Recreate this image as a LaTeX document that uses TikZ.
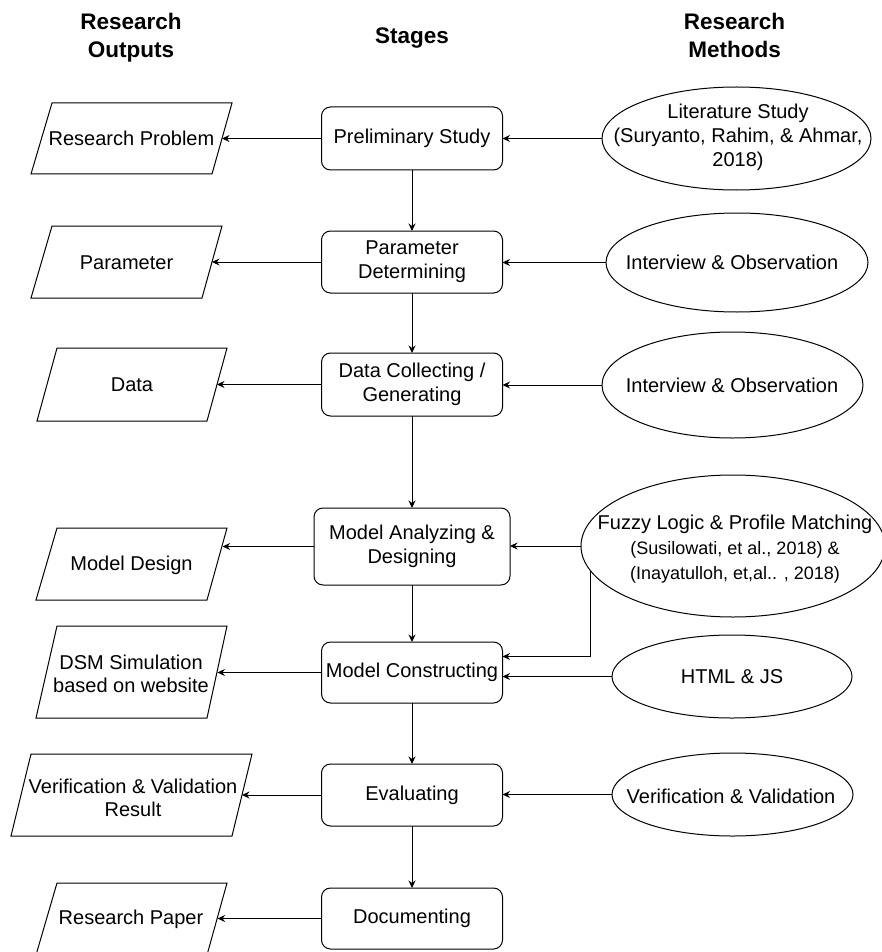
\documentclass[tikz,border=0pt]{standalone}
\usepackage{fontspec}
\setmainfont{Liberation Sans}
\usetikzlibrary{arrows.meta,calc,shapes.geometric}
\begin{document}
\begin{tikzpicture}[x=1pt,y=-1pt,
  stagebox/.style={draw, rounded corners=9pt, line width=1pt, minimum width=181pt, minimum height=62pt, inner sep=0pt, outer sep=0pt, align=center, font=\fontsize{20}{24}\selectfont},
  meth/.style={draw, ellipse, line width=1pt, inner sep=0pt, outer sep=0pt},
  txt/.style={align=center, inner sep=0pt, font=\fontsize{20}{24}\selectfont},
  hdr/.style={align=center, inner sep=0pt, font=\fontsize{22.5}{28}\selectfont\bfseries},
  outl/.style={draw, line width=1pt, line join=miter},
  arr/.style={line width=1pt, -{Stealth[length=7.5pt,width=7pt,inset=2.5pt]}}
]
\useasboundingbox (0,0) rectangle (882,952);

% headers
\node[hdr, anchor=north] (hout) at (131,13) {Research\\Outputs};
\node[hdr, anchor=north] (hst) at (412,28) {Stages};
\node[hdr, anchor=north] (hmet) at (734.5,13) {Research\\Methods};

% stages
\node[stagebox, minimum height=63pt] (ps) at (412,138.5) {Preliminary Study};
\node[stagebox] (pd) at (412,262) {Parameter\\Determining};
\node[stagebox, minimum height=63pt] (dc) at (412,384.5) {Data Collecting /\\Generating};
\node[stagebox, minimum width=196pt, minimum height=77pt] (ma) at (412,546.5) {Model Analyzing \&\\Designing};
\node[stagebox, minimum height=61pt] (mc) at (412,672.5) {Model Constructing};
\node[stagebox] (ev) at (412,795) {Evaluating};
\node[stagebox, minimum height=61pt] (doc) at (412,918.5) {Documenting};

\draw[arr] (ps) -- (pd);
\draw[arr] (pd) -- (dc);
\draw[arr] (dc) -- (ma);
\draw[arr] (ma) -- (mc);
\draw[arr] (mc) -- (ev);
\draw[arr] (ev) -- (doc);

% methods
\node[meth, minimum width=269pt, minimum height=103pt] (lit) at (736.5,138.5) {};
\node[meth, minimum width=262pt, minimum height=99pt] (int1) at (737,262.5) {};
\node[meth, minimum width=261pt, minimum height=106pt] (int2) at (732.5,385) {};
\node[meth, minimum width=304pt, minimum height=142pt] (fz) at (733,546) {};
\node[meth, minimum width=240pt, minimum height=83pt] (html) at (732,676.5) {};
\node[meth, minimum width=241pt, minimum height=83pt] (vv) at (732.5,794.5) {};

\node[txt] (litT) at (738,137) {Literature Study\\(Suryanto, Rahim, \& Ahmar,\hspace*{22pt}\\2018)};
\node[txt] (int1T) at (732,262) {Interview \& Observation};
\node[txt] (int2T) at (732,385) {Interview \& Observation};
\node[txt, font=\fontsize{18}{25}\selectfont] (fzT) at (735,549) {{\fontsize{20}{25}\selectfont Fuzzy Logic \& Profile Matching}\\(Susilowati, et al., 2018) \&\\(Inayatulloh, et,al.. , 2018)};
\node[txt] (htmlT) at (732,677) {HTML \& JS};
\node[txt] (vvT) at (731,796) {Verification \& Validation};

\draw[arr] (lit.west) -- (lit.west -| ps.east);
\draw[arr] (int1.west) -- (int1.west -| pd.east);
\draw[arr] (int2.west) -- (int2.west -| dc.east);
\draw[arr] (fz.west) -- (fz.west -| ma.east);
\coordinate (fzk) at (592,656.5);
\draw[arr] (fz.190.6) |- (fzk -| mc.east);
\draw[arr] (html.west) -- (html.west -| mc.east);
\draw[arr] (vv.west) -- (vv.west -| ev.east);

% outputs (parallelograms)
\draw[outl] (31,174) -- (52,103) -- (232,103) -- (212,174) -- cycle;
\draw[outl] (31,298) -- (52,226) -- (222,226) -- (202,298) -- cycle;
\draw[outl] (37,421) -- (57,348) -- (227,348) -- (207,421) -- cycle;
\draw[outl] (36,600) -- (57,528) -- (227,528) -- (207,600) -- cycle;
\draw[outl] (36,718) -- (57,626) -- (227,626) -- (207,718) -- cycle;
\draw[outl] (11,836) -- (31,754) -- (252,754) -- (232,836) -- cycle;
\draw[outl] (36,955) -- (57,883) -- (227,883) -- (207,955) -- cycle;

\node[txt] (rpT) at (131.5,138.5) {Research Problem};
\node[txt] (paT) at (126.5,263) {Parameter};
\node[txt] (dT) at (132,385) {Data};
\node[txt] (mdT) at (131.5,565) {Model Design};
\node[txt, font=\fontsize{20}{23.5}\selectfont] (dsmT) at (131,674) {DSM Simulation\\based on website};
\node[txt, font=\fontsize{20}{23.5}\selectfont] (vvrT) at (133,798) {Verification \& Validation\\Result};
\node[txt] (rpapT) at (131,919.5) {Research Paper};

\coordinate (rpE) at (222,138.5);
\coordinate (paE) at (212,262);
\coordinate (dE) at (217,384.5);
\coordinate (mdE) at (222.6,546.5);
\coordinate (dsmE) at (217.4,672.5);
\coordinate (vvrE) at (242,795);
\coordinate (rpapE) at (217.6,918.5);

\draw[arr] (ps.west) -- (rpE);
\draw[arr] (pd.west) -- (paE);
\draw[arr] (dc.west) -- (dE);
\draw[arr] (ma.west) -- (mdE);
\draw[arr] (mc.west) -- (dsmE);
\draw[arr] (ev.west) -- (vvrE);
\draw[arr] (doc.west) -- (rpapE);
\end{tikzpicture}
\end{document}
